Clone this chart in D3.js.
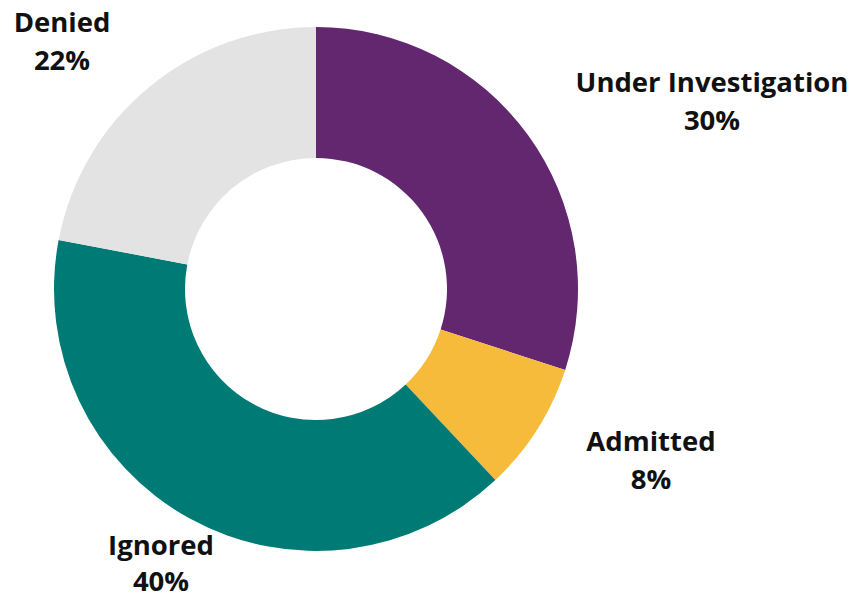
<!DOCTYPE html>
<html>
<head>
<meta charset="utf-8">
<script src="https://cdn.jsdelivr.net/npm/d3@7"></script>
<style>
  html, body { margin: 0; padding: 0; background: #fff; }
  svg { display: block; }
  .lbl { font-family: "Open Sans", sans-serif; font-weight: 700; font-size: 27.5px; fill: #111; }
</style>
</head>
<body>
<svg id="chart" width="851" height="600"></svg>
<script>
const categories = ["Under Investigation", "Admitted", "Ignored", "Denied"];
const values = [30, 8, 40, 22];
const colors = ["#62276F", "#F6BB3A", "#007A75", "#E3E3E3"];

// Label anchor points (centre x, first baseline y, line gap) for each slice
const labelAnchors = [[712, 92, 38], [651, 451, 38], [161, 555, 36], [62, 32, 38]];

const W = 851, H = 600;
const cx = 316, cy = 289, outerR = 262, innerR = 131;

const svg = d3.select("#chart");
const g = svg.append("g").attr("transform", `translate(${cx},${cy})`);

const pie = d3.pie().sort(null).value(d => d.value);
const arc = d3.arc().innerRadius(innerR).outerRadius(outerR);

const data = categories.map((c, i) => ({ name: c, value: values[i], color: colors[i] }));
const arcs = pie(data);

g.selectAll("path.slice")
  .data(arcs)
  .join("path")
  .attr("class", "slice")
  .attr("d", arc)
  .attr("fill", d => d.data.color);

const total = d3.sum(values);
const lbl = svg.selectAll("text.lbl")
  .data(arcs)
  .join("text")
  .attr("class", "lbl")
  .attr("text-anchor", "middle")
  .attr("x", (d, i) => labelAnchors[i][0])
  .attr("y", (d, i) => labelAnchors[i][1]);

lbl.append("tspan")
  .attr("x", (d, i) => labelAnchors[i][0])
  .text(d => d.data.name);
lbl.append("tspan")
  .attr("x", (d, i) => labelAnchors[i][0])
  .attr("dy", (d, i) => labelAnchors[i][2])
  .text(d => Math.round(d.data.value / total * 100) + "%");
</script>
</body>
</html>
